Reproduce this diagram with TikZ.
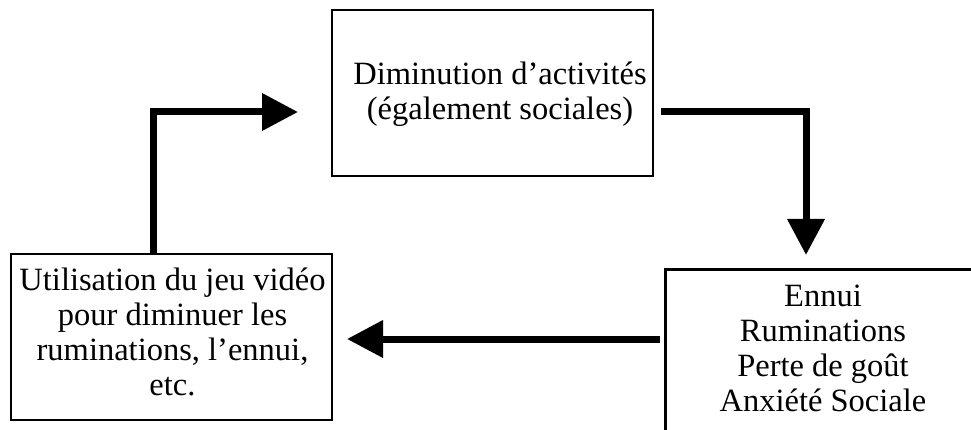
\documentclass[tikz,border=0pt]{standalone}
\usepackage{fontspec}
\setmainfont{Liberation Serif}
\usetikzlibrary{arrows.meta}
\begin{document}
\begin{tikzpicture}[x=1pt,y=-1pt,
  boxstyle/.style={draw, line width=2.5pt, minimum width=321pt, minimum height=166pt, inner sep=0pt},
  txt/.style={align=center, font=\fontsize{32.5}{35}\selectfont, inner sep=0pt},
  arr/.style={line width=7pt, line join=miter, -{Triangle[length=36pt,width=36pt]}}]
\useasboundingbox (0,0) rectangle (971,430);
\clip (0,0) rectangle (971,430);
\node[boxstyle] (top) at (492.5,93) {};
\node[txt] (toptxt) at (500,94) {Diminution d’activités\\(également sociales)};
\node[boxstyle] (left) at (171.5,337) {};
\node[txt] (lefttxt) at (172.5,332) {Utilisation du jeu vidéo\\pour diminuer les\\ruminations, l’ennui,\\etc.};
\node[draw, line width=2.5pt, minimum width=340pt, minimum height=200pt, inner sep=0pt, anchor=north west] (ennuibox) at (664,268) {};
\node[txt] (ennuitxt) at (823,348) {Ennui\\Ruminations\\Perte de goût\\Anxiété Sociale};
\coordinate (c1) at (153,112);
\coordinate (e1) at (298,112);
\coordinate (s2) at (661,112);
\coordinate (c2) at (806,112);
\coordinate (e2) at (806,255);
\coordinate (s3) at (660,339);
\coordinate (e3) at (347,339);
\draw[arr] (left.north -| c1) -- (c1) -- (e1);
\draw[arr] (s2) -- (c2) -- (e2);
\draw[arr] (s3) -- (e3);
\end{tikzpicture}
\end{document}
